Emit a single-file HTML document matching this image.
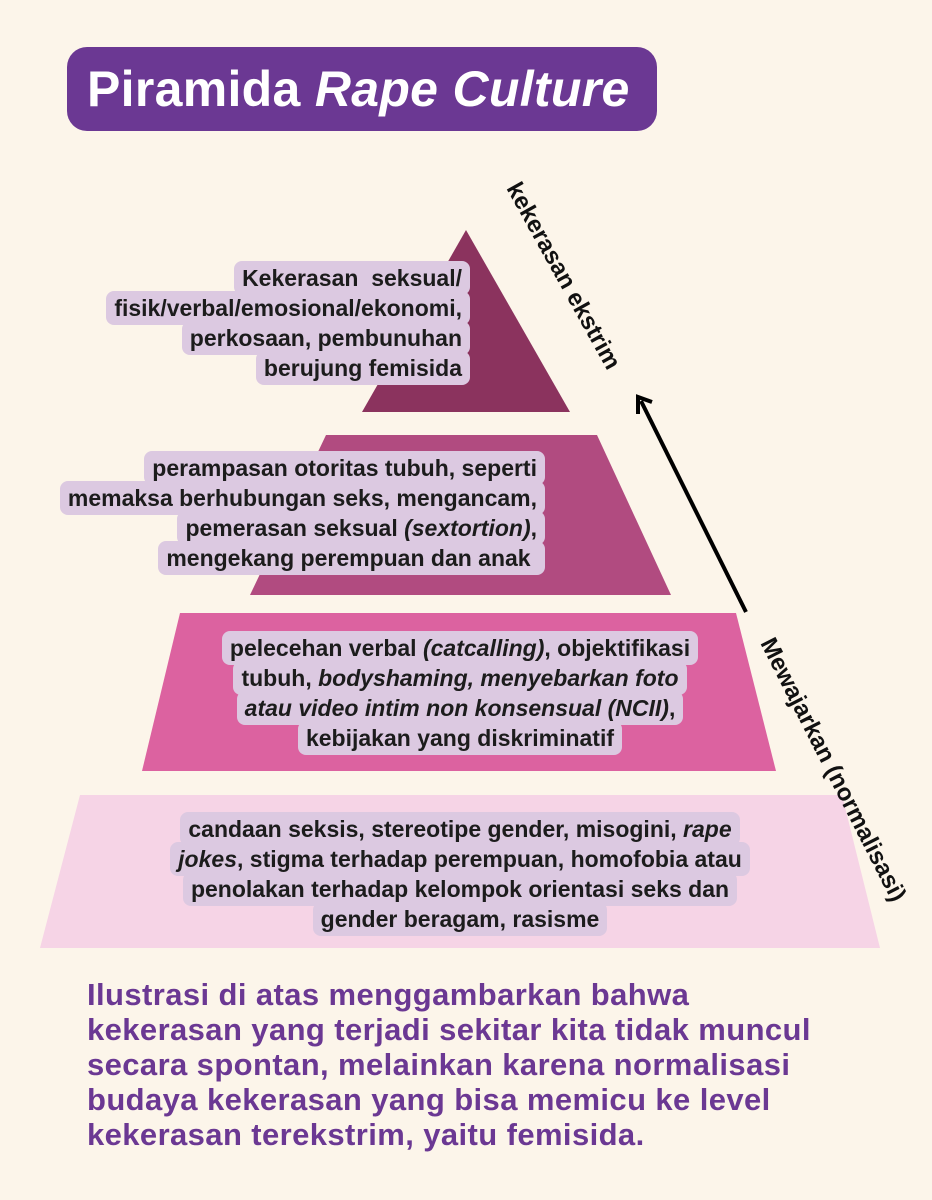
<!DOCTYPE html>
<html><head><meta charset="utf-8"><style>
html,body{margin:0;padding:0}
body{width:932px;height:1200px;background:#fcf5ea;position:relative;overflow:hidden;font-family:"Liberation Sans",sans-serif}
.title{position:absolute;left:67px;top:47px;width:590px;height:84px;background:#6b3893;border-radius:20px;color:#fff;font-weight:bold;font-size:50px;line-height:84px;text-indent:20px;letter-spacing:0.3px}
svg{position:absolute;left:0;top:0}
.lbl{position:absolute;font-weight:bold;color:#1c1c1c;font-size:23px;line-height:30px}
.lbl span{background:#dcc9e1;padding:4px 8px;border-radius:8px;-webkit-box-decoration-break:clone;box-decoration-break:clone}
.bottom{position:absolute;left:87px;top:977px;width:840px;color:#6b3893;font-weight:bold;font-size:31px;line-height:35px;letter-spacing:0.4px}
</style></head><body>
<div class="title">Piramida <i>Rape Culture</i></div>
<svg width="932" height="1200">
<polygon points="466,230 570,412 362,412" fill="#8b335e"/>
<polygon points="326,435 597,435 671,595 250,595" fill="#b14b80"/>
<polygon points="180,613 736,613 776,771 142,771" fill="#dc62a0"/>
<polygon points="80,795 842,795 880,948 40,948" fill="#f6d4e6"/>
<line x1="746" y1="612" x2="641" y2="401" stroke="#000" stroke-width="4"/>
<polyline points="638,414 638,397 652,402" fill="none" stroke="#000" stroke-width="4"/>
<text x="0" y="0" transform="translate(506,188) rotate(61)" font-family="Liberation Sans" font-weight="bold" font-size="24" fill="#111">kekerasan ekstrim</text>
<text x="0" y="0" transform="translate(760,643) rotate(63)" font-family="Liberation Sans" font-weight="bold" font-size="24" fill="#111">Mewajarkan (normalisasi)</text>
</svg>
<div class="lbl" style="right:462px;top:263px;text-align:right;width:460px"><span>Kekerasan&nbsp; seksual/<br>fisik/verbal/emosional/ekonomi,<br>perkosaan, pembunuhan<br>berujung femisida</span></div>
<div class="lbl" style="right:387px;top:453px;text-align:right;width:540px"><span>perampasan otoritas tubuh, seperti<br>memaksa berhubungan seks, mengancam,<br>pemerasan seksual <i>(sextortion)</i>,<br>mengekang perempuan dan anak&nbsp;</span></div>
<div class="lbl" style="left:130px;top:633px;text-align:center;width:660px"><span>pelecehan verbal <i>(catcalling)</i>, objektifikasi<br>tubuh, <i>bodyshaming, menyebarkan foto<br>atau video intim non konsensual (NCII)</i>,<br>kebijakan yang diskriminatif</span></div>
<div class="lbl" style="left:90px;top:814px;text-align:center;width:740px"><span>candaan seksis, stereotipe gender, misogini, <i>rape</i><br><i>jokes</i>, stigma terhadap perempuan, homofobia atau<br>penolakan terhadap kelompok orientasi seks dan<br>gender beragam, rasisme</span></div>
<div class="bottom">Ilustrasi di atas menggambarkan bahwa<br>kekerasan yang terjadi sekitar kita tidak muncul<br>secara spontan, melainkan karena normalisasi<br>budaya kekerasan yang bisa memicu ke level<br>kekerasan terekstrim, yaitu femisida.</div>
</body></html>
